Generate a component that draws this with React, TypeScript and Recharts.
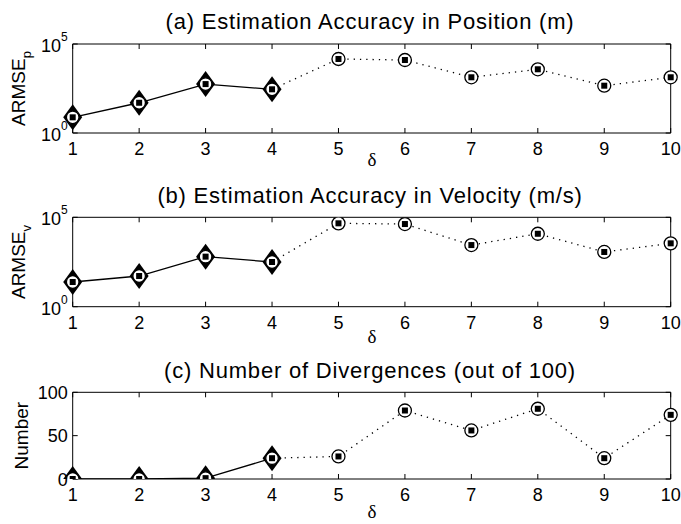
import React from 'react';
import { LineChart, Line, XAxis, YAxis } from 'recharts';

const deltas = [1, 2, 3, 4, 5, 6, 7, 8, 9, 10];
const positionArmse = [7.6, 50, 560, 285, 14400, 12600, 1350, 3800, 455, 1350];
const velocityArmse = [24, 52, 630, 316, 46000, 42000, 2800, 12000, 1150, 3500];
const divergences = [0, 0, 1, 24, 26, 79, 56, 81, 24, 74];
const logTicks = [1, 100000];
const countTicks = [0, 50, 100];
const lastSolid = 3; // delta = 4 ends the solid segment

const font = '"Liberation Sans", Arial, Helvetica, sans-serif';

const buildRows = (values: number[]) =>
  deltas.map((d, i) => ({
    delta: d,
    head: i <= lastSolid ? values[i] : null,
    tail: i >= lastSolid ? values[i] : null,
  }));

const headDot = (p: any) => {
  const { cx, cy, index } = p;
  if (cx == null || cy == null) return <g key={`h${index}`} />;
  return (
    <g key={`h${index}`}>
      <polygon points={`${cx},${cy - 13} ${cx + 9.5},${cy} ${cx},${cy + 13} ${cx - 9.5},${cy}`} fill="#000" />
      <circle cx={cx} cy={cy} r={6.3} fill="#fff" stroke="#000" strokeWidth={1.3} />
      <rect x={cx - 3} y={cy - 3} width={6} height={6} fill="#000" />
    </g>
  );
};

const tailDot = (p: any) => {
  const { cx, cy, index } = p;
  if (cx == null || cy == null || index <= lastSolid) return <g key={`t${index}`} />;
  return (
    <g key={`t${index}`}>
      <circle cx={cx} cy={cy} r={6.5} fill="#fff" stroke="#000" strokeWidth={1.3} />
      <rect x={cx - 3} y={cy - 3} width={6} height={6} fill="#000" />
    </g>
  );
};

const XTick = (p: any) => (
  <text x={p.x} y={p.y} textAnchor="middle" fontSize={18} fontFamily={font} fill="#000">
    {p.payload.value}
  </text>
);

const LogTick = (p: any) => (
  <text x={p.x} y={p.y + 8} textAnchor="end" fontSize={18} fontFamily={font} fill="#000">
    10
    <tspan dy={-11} fontSize={12}>{Math.round(Math.log10(p.payload.value))}</tspan>
  </text>
);

const CountTick = (p: any) => (
  <text x={p.x} y={p.y + 6.5} textAnchor="end" fontSize={18} fontFamily={font} fill="#000">
    {p.payload.value}
  </text>
);

const NoTick = (p: any) => <text x={p.x} y={p.y} fontSize={1} fill="none">{''}</text>;

type PanelProps = {
  top: number;
  height: number;
  plotTop: number;
  plotBottom: number;
  title: string;
  label: string;
  sub?: string;
  labelX: number;
  deltaY: number;
  values: number[];
  log: boolean;
};

const Panel = ({ top, height, plotTop, plotBottom, title, label, sub, labelX, deltaY, values, log }: PanelProps) => {
  const rows = buildRows(values);
  const yProps: any = log
    ? { scale: 'log', domain: [1, 100000], ticks: logTicks }
    : { scale: 'linear', domain: [0, 100], ticks: countTicks };
  const centerY = (plotTop + plotBottom) / 2;
  return (
    <div style={{ position: 'absolute', left: 0, top, width: 681, height }}>
      <div
        style={{
          position: 'absolute',
          left: 100,
          width: 540,
          top: plotTop - 14 - 18.6,
          textAlign: 'center',
          fontFamily: font,
          fontSize: 22,
          letterSpacing: '0.8px',
          lineHeight: '22px',
          color: '#000',
          whiteSpace: 'nowrap',
        }}
      >
        {title}
      </div>
      <div style={{ position: 'absolute', left: 0, top: 0 }}>
        <LineChart
          width={681}
          height={height}
          data={rows}
          margin={{ top: plotTop - 1, right: 9.3, left: 0, bottom: 0 }}
        >
          <XAxis
            dataKey="delta"
            type="number"
            domain={[1, 10]}
            ticks={deltas}
            height={height - plotBottom}
            tickSize={-5}
            tickMargin={27}
            tick={<XTick />}
            stroke="#000"
            interval={0}
            label={{
              content: () => (
                <text x={372} y={deltaY} textAnchor="middle" fontSize={19} fontFamily='"Liberation Serif", "DejaVu Serif", serif' fill="#000">
                  δ
                </text>
              ),
            }}
          />
          <XAxis
            xAxisId="top"
            dataKey="delta"
            orientation="top"
            type="number"
            domain={[1, 10]}
            ticks={deltas}
            height={1}
            tickSize={-5}
            tick={<NoTick />}
            stroke="#000"
            interval={0}
          />
          <YAxis
            type="number"
            {...yProps}
            width={72.7}
            tickSize={-5}
            tickMargin={10}
            tick={log ? <LogTick /> : <CountTick />}
            stroke="#000"
            interval={0}
            allowDataOverflow
            label={{
              content: () => (
                <text
                  transform={`translate(${labelX},${centerY}) rotate(-90)`}
                  textAnchor="middle"
                  fontSize={19}
                  fontFamily={font}
                  fill="#000"
                >
                  {label}
                  {sub ? <tspan dy={6} fontSize={13}>{sub}</tspan> : null}
                </text>
              ),
            }}
          />
          <YAxis
            yAxisId="right"
            orientation="right"
            type="number"
            {...yProps}
            width={1}
            tickSize={-5}
            tick={<NoTick />}
            stroke="#000"
            interval={0}
            allowDataOverflow
          />
          {/* invisible series so the box axes (top / right) are drawn */}
          <Line
            xAxisId="top"
            yAxisId="right"
            dataKey="tail"
            stroke="none"
            dot={false}
            activeDot={false}
            legendType="none"
            isAnimationActive={false}
          />
          <Line
            dataKey="tail"
            stroke="#000"
            strokeWidth={1.3}
            strokeDasharray="1.3 5"
            dot={tailDot}
            activeDot={false}
            isAnimationActive={false}
          />
          <Line
            dataKey="head"
            stroke="#000"
            strokeWidth={1.3}
            dot={headDot}
            activeDot={false}
            isAnimationActive={false}
          />
        </LineChart>
      </div>
    </div>
  );
};

export default function App() {
  return (
    <div style={{ position: 'absolute', left: 0, top: 0, width: 681, height: 524, background: '#fff' }}>
      <Panel
        top={0}
        height={175}
        plotTop={44}
        plotBottom={133}
        title="(a) Estimation Accuracy in Position (m)"
        label="ARMSE"
        sub="p"
        labelX={24.5}
        deltaY={166}
        values={positionArmse}
        log
      />
      <Panel
        top={175}
        height={175}
        plotTop={42.3}
        plotBottom={131.7}
        title="(b) Estimation Accuracy in Velocity (m/s)"
        label="ARMSE"
        sub="v"
        labelX={24.5}
        deltaY={168}
        values={velocityArmse}
        log
      />
      <Panel
        top={350}
        height={174}
        plotTop={42.3}
        plotBottom={129}
        title="(c) Number of Divergences (out of 100)"
        label="Number"
        labelX={28}
        deltaY={168}
        values={divergences}
        log={false}
      />
    </div>
  );
}
